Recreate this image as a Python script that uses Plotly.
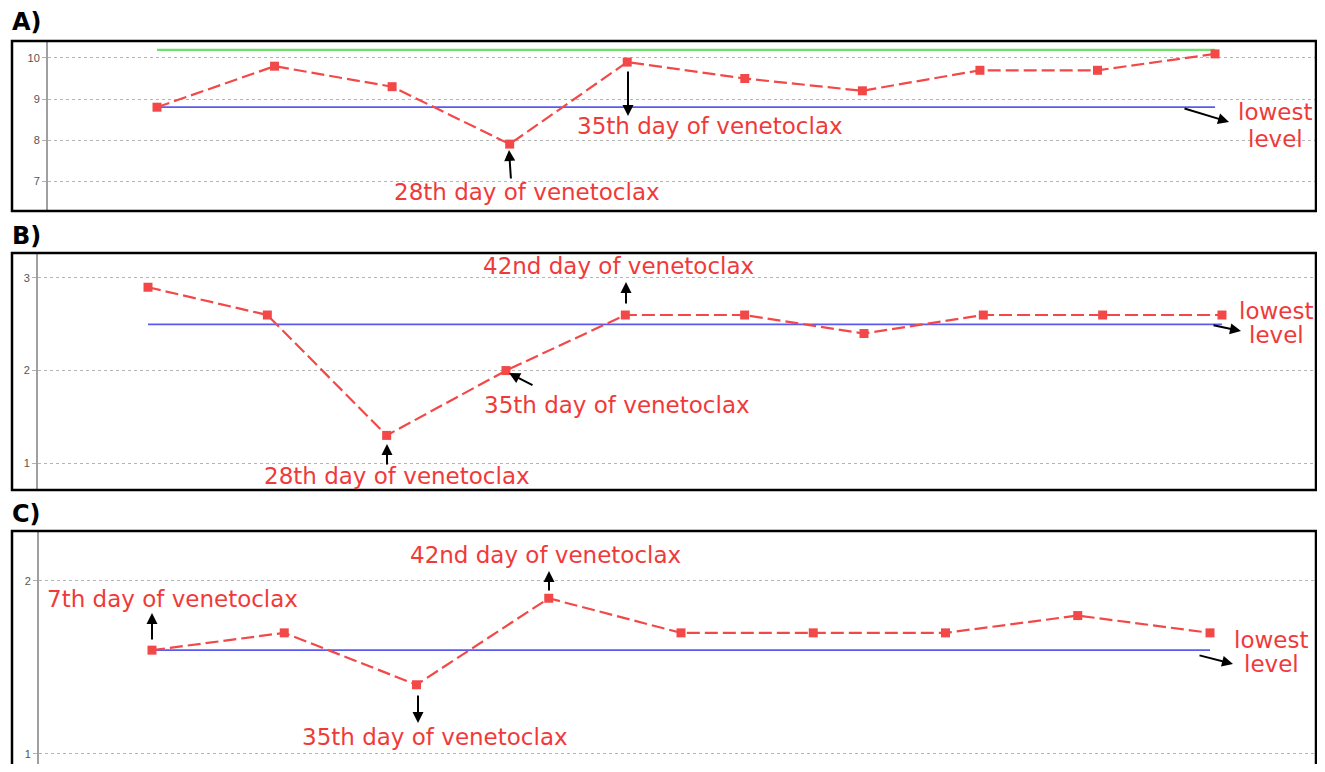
import plotly.graph_objects as go

# the page body adds an 8px margin: figure is drawn at (8, 8) inside the window
OX, OY = 8, 8
W, H = 1325 - OX, 772 - 2 * OY
RIGHT = 1316  # rightmost visible frame position

# ---------------- data ----------------
a_values = [8.8, 9.8, 9.3, 7.9, 9.9, 9.5, 9.2, 9.7, 9.7, 10.1]
a_lowest = 8.8
a_upper = 10.2
a_ticks = [7, 8, 9, 10]

b_values = [2.9, 2.6, 1.3, 2.0, 2.6, 2.6, 2.4, 2.6, 2.6, 2.6]
b_lowest = 2.5
b_ticks = [1, 2, 3]

c_values = [1.6, 1.7, 1.4, 1.9, 1.7, 1.7, 1.7, 1.8, 1.7]
c_lowest = 1.6
c_ticks = [1, 2]

RED = "#f24848"
TXT_RED = "#f03a3a"
BLUE = "#5a5af0"
GREEN = "#6fe06a"
FONT = "DejaVu Sans"


def px(x):
    return (x - OX) / W


def py(y):
    return 1 - (y - OY) / H


fig = go.Figure()

# pixel geometry: first point x, point spacing, axis-line x
panels = [
    # suffix, values, lowest, upper, ticks, (axis x, first x, step), y-domain px, yrange
    ("", a_values, a_lowest, a_upper, a_ticks, (48, 157, 117.56), (42, 210), (6.293, 10.39)),
    ("2", b_values, b_lowest, None, b_ticks, (38, 148, 119.33), (254, 489), (0.721, 3.259)),
    ("3", c_values, c_lowest, None, c_ticks, (39, 152, 132.25), (532, 764), (0.942, 2.283)),
]

layout_axes = {}
for sfx, vals, low, up, ticks, (ax0, fx, step), yd, yr in panels:
    xs = list(range(len(vals)))
    xa, ya = "x" + sfx, "y" + sfx
    r0 = -(fx - ax0) / step
    r1 = r0 + (RIGHT - ax0) / step
    if up is not None:
        fig.add_trace(go.Scatter(x=[xs[0], xs[-1]], y=[up, up], mode="lines",
                                 line=dict(color=GREEN, width=2.2), xaxis=xa, yaxis=ya,
                                 showlegend=False, hoverinfo="skip"))
    fig.add_trace(go.Scatter(x=[xs[0], xs[-1]], y=[low, low], mode="lines",
                             line=dict(color=BLUE, width=1.8), xaxis=xa, yaxis=ya,
                             showlegend=False, hoverinfo="skip"))
    fig.add_trace(go.Scatter(x=xs, y=vals, mode="lines+markers",
                             line=dict(color=RED, width=2.2, dash="13px,5px"),
                             marker=dict(symbol="square", size=9, color=RED),
                             xaxis=xa, yaxis=ya, showlegend=False))
    layout_axes["xaxis" + sfx] = dict(domain=[px(ax0), px(RIGHT)], range=[r0, r1],
                                      showticklabels=False, showgrid=False, zeroline=False,
                                      showline=False, ticks="", anchor=ya, fixedrange=True)
    layout_axes["yaxis" + sfx] = dict(domain=[max(0, py(yd[1])), py(yd[0])], range=list(yr),
                                      tickvals=ticks, showgrid=True, gridcolor="#b5b5b5",
                                      griddash="dot", gridwidth=1, zeroline=False,
                                      showline=True, linecolor="#a0a0a0", linewidth=2,
                                      ticks="outside", ticklen=4, tickcolor="#b0b0b0",
                                      tickfont=dict(size=11, color="#555", family="Liberation Sans"),
                                      anchor=xa, fixedrange=True)

shapes = []
# panel frames
for (x0, y0, x1, y1) in [(12, 41, RIGHT, 211), (12, 253, RIGHT, 490), (12, 531, RIGHT, 800)]:
    shapes.append(dict(type="rect", xref="paper", yref="paper",
                       x0=px(x0), x1=px(x1), y0=py(y1), y1=py(y0),
                       line=dict(color="black", width=2.5), fillcolor="rgba(0,0,0,0)"))

annotations = []


def label(text, x, y):
    annotations.append(dict(text=text, x=px(x), y=py(y), xref="paper", yref="paper",
                            showarrow=False, xanchor="center", yanchor="middle",
                            font=dict(family=FONT, size=23, color=TXT_RED)))


def arrow(hx, hy, tx, ty):
    annotations.append(dict(text="", x=px(hx), y=py(hy), xref="paper", yref="paper",
                            ax=tx - hx, ay=ty - hy, axref="pixel", ayref="pixel",
                            showarrow=True, arrowhead=2, arrowsize=1.1, arrowwidth=2,
                            arrowcolor="black"))


def panel_label(text, x, y):
    annotations.append(dict(text="<b>%s</b>" % text, x=px(x), y=py(y), xref="paper", yref="paper",
                            showarrow=False, xanchor="left", yanchor="middle",
                            font=dict(family=FONT, size=24, color="black")))


panel_label("A)", 10, 22)
panel_label("B)", 10, 236)
panel_label("C)", 10, 514)

# Panel A
label("35th day of venetoclax", 710, 126)
arrow(628, 116, 628, 70)
label("28th day of venetoclax", 527, 192)
arrow(509, 150, 511, 180)
label("lowest", 1275, 112)
label("level", 1275, 139)
arrow(1229, 122, 1183, 108)

# Panel B
label("42nd day of venetoclax", 618, 266)
arrow(626, 282, 626, 305)
label("35th day of venetoclax", 617, 405)
arrow(509, 373, 534, 386)
label("28th day of venetoclax", 397, 476)
arrow(387, 444, 387, 466)
label("lowest", 1276, 311)
label("level", 1276, 335)
arrow(1241, 331, 1212, 325)

# Panel C
label("7th day of venetoclax", 172, 599)
arrow(152, 613, 152, 641)
label("42nd day of venetoclax", 545, 555)
arrow(549, 571, 549, 592)
label("35th day of venetoclax", 435, 737)
arrow(418, 723, 418, 694)
label("lowest", 1271, 640)
label("level", 1271, 664)
arrow(1233, 664, 1198, 655)

fig.update_layout(width=W, height=H, margin=dict(l=0, r=0, t=0, b=0),
                  paper_bgcolor="white", plot_bgcolor="white",
                  shapes=shapes, annotations=annotations, **layout_axes)

fig.write_html("out.html", config={"displayModeBar": False})
